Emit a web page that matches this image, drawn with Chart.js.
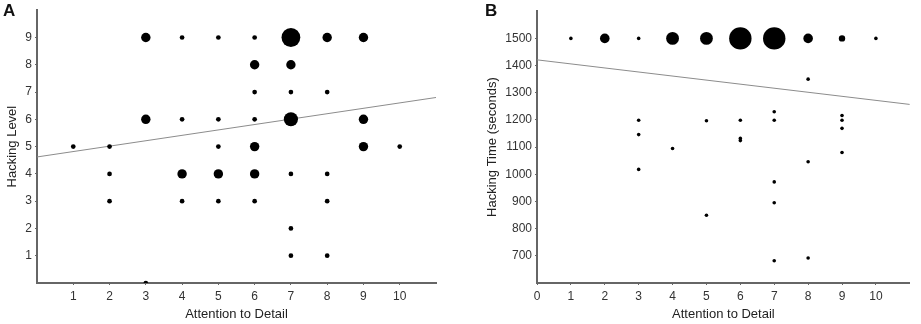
<!DOCTYPE html>
<html>
<head>
<meta charset="utf-8">
<script src="https://cdn.jsdelivr.net/npm/chart.js@4.4.0/dist/chart.umd.min.js"></script>
<style>
  body { margin: 0; background: #fff; width: 921px; height: 324px; position: relative; overflow: hidden;
         font-family: "Liberation Sans", Arial, sans-serif; }
  .panel { position: absolute; top: 0; }
  .tag { position: absolute; top: 2px; font-weight: bold; font-size: 17px; line-height: 17px; color: #111; }
</style>
</head>
<body>
<canvas id="chartA" class="panel" style="left:0" width="460" height="324"></canvas>
<canvas id="chartB" class="panel" style="left:460px" width="461" height="324"></canvas>
<div class="tag" style="left:3px">A</div>
<div class="tag" style="left:485px">B</div>
<script>
// Panel A: Attention to Detail vs Hacking Level (n = number of participants at a point)
const xA = [3, 4, 5, 6, 7, 8, 9,  6, 7,  6, 7, 8,  3, 4, 5, 6, 7, 9,  1, 2, 5, 6, 9, 10,  2, 4, 5, 6, 7, 8,  2, 4, 5, 6, 8,  7,  7, 8,  3];
const yA = [9, 9, 9, 9, 9, 9, 9,  8, 8,  7, 7, 7,  6, 6, 6, 6, 6, 6,  5, 5, 5, 5, 5, 5,   4, 4, 4, 4, 4, 4,  3, 3, 3, 3, 3,  2,  1, 1,  0];
const nA = [2, 1, 1, 1, 4, 2, 2,  2, 2,  1, 1, 1,  2, 1, 1, 1, 3, 2,  1, 1, 1, 2, 2, 1,   1, 2, 2, 2, 1, 1,  1, 1, 1, 1, 1,  1,  1, 1,  1];
const fitXA = [0, 11];
const fitYA = [4.62, 6.8];
const xTicksA = [1, 2, 3, 4, 5, 6, 7, 8, 9, 10];
const yTicksA = [1, 2, 3, 4, 5, 6, 7, 8, 9];

// Panel B: Attention to Detail vs Hacking Time
const xB = [1, 2, 3, 4, 5, 6, 7, 8, 9, 10,  8,  3, 3, 3,  4,  5, 5,  6, 6, 6,  7, 7, 7, 7, 7,  8, 8,  9, 9, 9, 9];
const yB = [1500, 1500, 1500, 1500, 1500, 1500, 1500, 1500, 1500, 1500,  1350,  1199, 1146, 1018,  1095,  1197, 849,
            1199, 1132, 1124,  1230, 1199, 972, 895, 682,  1046, 692,  1216, 1199, 1169, 1080];
const nB = [1, 3, 1, 4, 4, 7, 7, 3, 2, 1,  1,  1, 1, 1,  1,  1, 1,  1, 1, 1,  1, 1, 1, 1, 1,  1, 1,  1, 1, 1, 1];
const fitXB = [0, 11];
const fitYB = [1421, 1257];
const xTicksB = [0, 1, 2, 3, 4, 5, 6, 7, 8, 9, 10];
const yTicksB = [700, 800, 900, 1000, 1100, 1200, 1300, 1400, 1500];

const tickFont = { family: '"Liberation Sans", Arial, sans-serif', size: 12 };
const titleFont = { family: '"Liberation Sans", Arial, sans-serif', size: 13 };

function makeChart(id, p) {
    const ctx = document.getElementById(id).getContext('2d');
    const points = p.x.map((v, i) => ({ x: v, y: p.y[i], n: p.n[i] }));
    const fit = p.fitX.map((v, i) => ({ x: v, y: p.fitY[i] }));
    return new Chart(ctx, {
        type: 'scatter',
        data: {
            datasets: [{
                data: points,
                backgroundColor: '#000',
                borderWidth: 0,
                pointRadius: c => c.raw ? Math.max(c.raw.n * p.rScale, p.rMin) : 0,
                order: 1
            }, {
                data: fit,
                showLine: true,
                borderColor: '#8c8c8c',
                borderWidth: 1,
                pointRadius: 0,
                order: 2
            }]
        },
        options: {
            responsive: false,
            animation: false,
            devicePixelRatio: 1,
            layout: { padding: p.pad },
            plugins: { legend: { display: false }, tooltip: { enabled: false } },
            scales: {
                x: {
                    type: 'linear',
                    min: p.xMin, max: p.xMax,
                    afterBuildTicks: s => { s.ticks = p.xTicks.map(v => ({ value: v })); },
                    afterFit: s => { s.height = 41; },
                    grid: { display: true, drawOnChartArea: false, tickLength: 2, color: '#666' },
                    border: { display: true, color: '#666', width: 2 },
                    ticks: { font: tickFont, color: '#333', padding: 4, maxRotation: 0, callback: v => String(v) },
                    title: { display: true, text: p.xTitle, font: titleFont, color: '#222', padding: { top: 0, bottom: 2 } }
                },
                y: {
                    type: 'linear',
                    min: p.yMin, max: p.yMax,
                    afterBuildTicks: s => { s.ticks = p.yTicks.map(v => ({ value: v })); },
                    afterFit: s => { s.width = p.yWidth; },
                    grid: { display: true, drawOnChartArea: false, tickLength: 2, color: '#666' },
                    border: { display: true, color: '#666', width: 2 },
                    ticks: { font: tickFont, color: '#333', padding: 3, callback: v => String(v) },
                    title: { display: true, text: p.yTitle, font: titleFont, color: '#222', padding: { top: 4, bottom: 4 } }
                }
            }
        }
    });
}

makeChart('chartA', {
    x: xA, y: yA, n: nA, fitX: fitXA, fitY: fitYA, rScale: 2.35, rMin: 0,
    xMin: 0, xMax: 11, yMin: 0, yMax: 10, xTicks: xTicksA, yTicks: yTicksA,
    xTitle: 'Attention to Detail', yTitle: 'Hacking Level',
    pad: { left: 1, right: 24, top: 7, bottom: 0 }, yWidth: 36
});

makeChart('chartB', {
    x: xB, y: yB, n: nB, fitX: fitXB, fitY: fitYB, rScale: 1.6, rMin: 1.8,
    xMin: 0, xMax: 11, yMin: 600, yMax: 1600, xTicks: xTicksB, yTicks: yTicksB,
    xTitle: 'Attention to Detail', yTitle: 'Hacking Time (seconds)',
    pad: { left: 21, right: 5, top: 7, bottom: 0 }, yWidth: 56
});
</script>
</body>
</html>
